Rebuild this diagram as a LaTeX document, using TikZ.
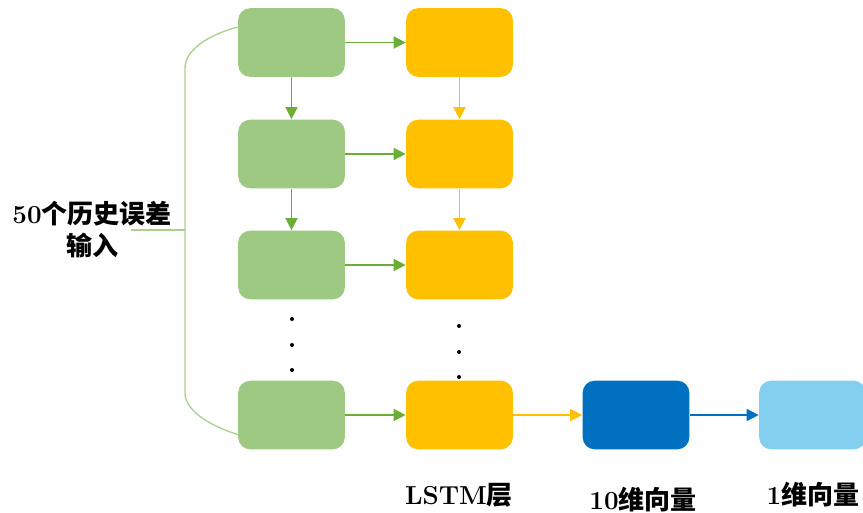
\documentclass[tikz,border=0pt]{standalone}
\usepackage{fontspec}
\newfontfamily\cjk{Noto Sans CJK SC}
\usetikzlibrary{arrows.meta}

\definecolor{boxgreen}{RGB}{157,201,131}
\definecolor{arrgreen}{RGB}{106,174,54}
\definecolor{linegreen}{RGB}{169,209,142}
\definecolor{boxorange}{RGB}{255,192,0}
\definecolor{boxblue}{RGB}{0,112,192}
\definecolor{boxlight}{RGB}{131,207,239}

\tikzset{every picture/.style={line width=0.75pt}}
\tikzset{
  cell/.style={rounded corners=9pt, minimum width=80pt, minimum height=51.5pt, inner sep=0pt},
  link/.style={line width=1.1pt, -{Triangle[length=9pt,width=9pt]}},
  lbl/.style={font=\fontsize{19.5}{24}\selectfont\bfseries, align=center, inner sep=0.75pt}
}

\begin{document}
\begin{tikzpicture}[x=0.75pt,y=0.75pt,yscale=-1,xscale=1]
\useasboundingbox (0,0) rectangle (863,513);

%Rounded Rect -- input column
\node [cell, fill=boxgreen] (g1) at (291.5,42.5) {};
\node [cell, fill=boxgreen] (g2) at (291.5,154) {};
\node [cell, fill=boxgreen] (g3) at (291.5,265) {};
\node [cell, fill=boxgreen] (g4) at (291.5,415) {};
%Rounded Rect -- LSTM column
\node [cell, fill=boxorange] (o1) at (459.5,42.5) {};
\node [cell, fill=boxorange] (o2) at (459.5,154) {};
\node [cell, fill=boxorange] (o3) at (459.5,265) {};
\node [cell, fill=boxorange] (o4) at (459.5,415) {};
%Rounded Rect -- output
\node [cell, fill=boxblue] (v10) at (636,415) {};
\node [cell, fill=boxlight] (v1) at (812.5,415) {};

%Straight Lines
\draw [link, arrgreen] (g1) -- (o1);
\draw [link, arrgreen] (g2) -- (o2);
\draw [link, arrgreen] (g3) -- (o3);
\draw [link, arrgreen] (g4) -- (o4);
\draw [link, arrgreen] (g1) -- (g2);
\draw [link, arrgreen] (g2) -- (g3);
\draw [link, boxorange] (o1) -- (o2);
\draw [link, boxorange] (o2) -- (o3);
\draw [link, boxorange] (o4) -- (v10);
\draw [link, boxblue] (v10) -- (v1);

%Dots
\fill (292,319) circle (2) (292,345) circle (2) (292,370) circle (2);
\fill (459,326) circle (2) (459,352) circle (2) (459,377) circle (2);

%Curve Lines
\coordinate (stub) at (131,230);
\draw [linegreen, line width=1pt] (g1.164) .. controls (208,35) and (185,50) .. (185,68) -- (185,393)
  .. controls (185,410) and (208,425) .. (g4.200);
\draw [linegreen, line width=1pt] (stub) -- (185,230);

% Text Node
\node [lbl] (inp) at (92,230) {50{\cjk 个历史误差}\\{\cjk 输入}};
% Text Node
\node [lbl] (tl) at (459,495) {LSTM{\cjk 层}};
% Text Node
\node [lbl] (t10) at (643,500) {10{\cjk 维向量}};
% Text Node
\node [lbl] (t1) at (813,495) {1{\cjk 维向量}};

\end{tikzpicture}
\end{document}
